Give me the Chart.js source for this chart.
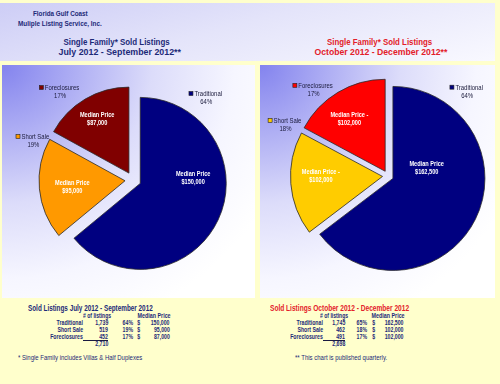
<!DOCTYPE html>
<html><head><meta charset="utf-8">
<script src="https://cdn.jsdelivr.net/npm/chart.js@4.4.0/dist/chart.umd.min.js"></script>
<style>
html,body{margin:0;padding:0;width:500px;height:384px;overflow:hidden;background:#FFFFCC;font-family:"Liberation Sans",Arial,sans-serif;}
#wrap{position:relative;width:500px;height:384px;}
.hdr{position:absolute;left:0;top:3px;width:495px;height:58px;background:linear-gradient(165deg,#cdcdf6 0%,#e4e4fa 45%,#f9f9ff 100%);}
.panel{position:absolute;background:radial-gradient(ellipse at 0 0,#8383ee 0%,#a9a9f3 18%,#dcdcfa 42%,#f6f6ff 65%,#ffffff 85%);}
.t{position:absolute;white-space:nowrap;line-height:1;}
.line{position:absolute;height:1px;background:#1a1a40;}
canvas{position:absolute;}
</style></head>
<body><div id="wrap">
<div class="hdr"></div>
<div class="panel" style="left:2px;top:65px;width:253px;height:233px;"></div>
<div class="panel" style="left:260px;top:65px;width:235px;height:233px;"></div>
<div id="c1w" style="position:absolute;left:13px;top:80px;width:240px;height:200px;"><canvas id="c1"></canvas></div>
<div id="c2w" style="position:absolute;left:262px;top:76px;width:236px;height:200px;"><canvas id="c2"></canvas></div>
</div>
<script>
// ---- data ----
const categories = ['Traditional', 'Short Sale', 'Foreclosures'];
const q3PieShare = [64, 19, 17];
const q4PieShare = [64, 18, 17];
const q3Counts = [1739, 519, 452];
const q4Counts = [1745, 462, 491];
const q3TablePct = [64, 19, 17];
const q4TablePct = [65, 18, 17];
const q3Median = [150000, 95000, 87000];
const q4Median = [162500, 102000, 102000];
const q3LabelTitles = ['Median Price', 'Median Price', 'Median Price'];
const q4LabelTitles = ['Median Price', 'Median Price -', 'Median Price -'];
const q3Colors = ['#000080', '#FF9900', '#800000'];
const q4Colors = ['#000080', '#FFCC00', '#FF0000'];

const NAVY = '#1d2a78', RED = '#e3202a', FONT = '"Liberation Sans", Arial, sans-serif';
const fmt = v => v.toLocaleString('en-US');

// ---- html text helper ----
const wrap = document.getElementById('wrap');
function place(text, x, cy, size, weight, color, width, align) {
  const s = document.createElement('span');
  s.className = 't';
  s.textContent = text;
  s.style.fontSize = size + 'px';
  s.style.fontWeight = weight;
  s.style.color = color;
  wrap.appendChild(s);
  const w = s.offsetWidth;
  const sx = width ? width / w : 0.8;
  const left = align === 'left' ? x : align === 'right' ? x - w : x - w / 2;
  s.style.left = left + 'px';
  s.style.top = (cy - s.offsetHeight / 2) + 'px';
  s.style.transformOrigin = align === 'left' ? 'left center' : align === 'right' ? 'right center' : 'center center';
  s.style.transform = 'scaleX(' + sx + ')';
}

// header
place('Florida Gulf Coast', 60.5, 13, 7, 'bold', NAVY, 55, 'center');
place('Muliple Listing Service, Inc.', 60, 23, 7, 'bold', NAVY, 84, 'center');
place('Single Family* Sold Listings', 116, 42, 9.5, 'bold', NAVY, 106, 'center');
place('July 2012 - September 2012**', 119.5, 52, 9.5, 'bold', NAVY, 123, 'center');
place('Single Family* Sold Listings', 379.5, 42, 9.5, 'bold', RED, 105, 'center');
place('October 2012 - December 2012**', 380.5, 52, 9.5, 'bold', RED, 133, 'center');

// tables
function table(cfg) {
  place(cfg.title, cfg.titleX, 308, 9, 'bold', cfg.titleColor, cfg.titleW, 'left');
  place('# of listings', cfg.colCount - 11, 316, 6.5, 'bold', NAVY, 28, 'center');
  place('Median Price', cfg.colPrice - 16.5, 316, 6.5, 'bold', NAVY, 33, 'center');
  const ys = [323, 330, 337];
  categories.forEach((c, i) => {
    place(c, cfg.colLabel, ys[i], 6.5, 'bold', NAVY, null, 'right');
    place(fmt(cfg.counts[i]), cfg.colCount, ys[i], 6.5, 'bold', NAVY, null, 'right');
    place(cfg.pct[i] + '%', cfg.colPct, ys[i], 6.5, 'bold', NAVY, null, 'right');
    place('$', cfg.colDollar, ys[i], 6.5, 'bold', NAVY, null, 'center');
    place(fmt(cfg.median[i]), cfg.colPrice, ys[i], 6.5, 'bold', NAVY, null, 'right');
  });
  const ln = document.createElement('div');
  ln.className = 'line';
  ln.style.left = cfg.colLabel + 'px';
  ln.style.top = '340px';
  ln.style.width = (cfg.colCount - cfg.colLabel) + 'px';
  wrap.appendChild(ln);
  const total = cfg.counts.reduce((a, b) => a + b, 0);
  place(fmt(total), cfg.colCount, 344, 6.5, 'bold', NAVY, null, 'right');
  place(cfg.note, cfg.noteX, 358, 7.5, 'normal', NAVY, cfg.noteW, 'left');
}
table({title: 'Sold Listings July 2012 - September 2012', titleX: 28, titleW: 125, titleColor: NAVY,
  counts: q3Counts, pct: q3TablePct, median: q3Median,
  colLabel: 83, colCount: 108, colPct: 133, colDollar: 139, colPrice: 170,
  note: '* Single Family includes Villas & Half Duplexes', noteX: 18, noteW: 124});
table({title: 'Sold Listings October 2012 - December 2012', titleX: 270, titleW: 139, titleColor: RED,
  counts: q4Counts, pct: q4TablePct, median: q4Median,
  colLabel: 323, colCount: 345, colPct: 367, colDollar: 373.5, colPrice: 404,
  note: '** This chart is published quarterly.', noteX: 295, noteW: 92});

// ---- chart plugins ----
function sText(ctx, t, x, y, font, color, sx, align) {
  ctx.save();
  ctx.translate(x, y);
  ctx.scale(sx, 1);
  ctx.font = font;
  ctx.fillStyle = color;
  ctx.textAlign = align;
  ctx.textBaseline = 'middle';
  ctx.fillText(t, 0, 0);
  ctx.restore();
}
const explodePlugin = {
  id: 'explode',
  beforeDatasetDraw(chart, args, opts) {
    const ctx = chart.ctx;
    args.meta.data.forEach(arc => {
      const mid = (arc.startAngle + arc.endAngle) / 2;
      ctx.save();
      ctx.translate(Math.cos(mid) * opts.distance, Math.sin(mid) * opts.distance);
      arc.draw(ctx);
      ctx.restore();
    });
    return false;
  }
};
const labelPlugin = {
  id: 'pieLabels',
  afterDatasetsDraw(chart, args, opts) {
    const ctx = chart.ctx;
    const meta = chart.getDatasetMeta(0);
    const ds = chart.data.datasets[0];
    meta.data.forEach((arc, i) => {
      const r = arc.outerRadius, cx = arc.x, cy = arc.y;
      // inside label
      const [deg, f] = opts.inside[i];
      const a = deg * Math.PI / 180;
      const ix = cx + Math.sin(a) * f * r, iy = cy - Math.cos(a) * f * r;
      const bf = 'bold 7px ' + FONT;
      sText(ctx, opts.titles[i], ix, iy - 4, bf, '#ffffff', 0.8, 'center');
      sText(ctx, '$' + fmt(opts.prices[i]), ix, iy + 4, bf, '#ffffff', 0.8, 'center');
      // outside legend-like label
      const [ox, oy] = opts.outside[i];
      const lx = cx + ox * r, ly = cy + oy * r;
      const nf = '7px ' + FONT;
      ctx.font = nf;
      const w = ctx.measureText(chart.data.labels[i]).width * 0.85;
      const start = lx - (w + 5) / 2;
      ctx.fillStyle = ds.backgroundColor[i];
      ctx.fillRect(start, ly - 2.5, 4, 4);
      ctx.strokeStyle = '#222';
      ctx.lineWidth = 0.6;
      ctx.strokeRect(start, ly - 2.5, 4, 4);
      sText(ctx, chart.data.labels[i], start + 5.5, ly, nf, '#1a1a3a', 0.85, 'left');
      sText(ctx, ds.data[i] + '%', lx + 1, ly + 8, nf, '#1a1a3a', 0.85, 'center');
    });
  }
};

function makePie(id, shares, colors, radius, explode, padding, labelOpts) {
  return new Chart(document.getElementById(id), {
    type: 'pie',
    data: {labels: categories, datasets: [{data: shares, backgroundColor: colors, borderColor: '#2a2a2a', borderWidth: 0.8}]},
    options: {
      responsive: true, maintainAspectRatio: false, animation: false,
      radius: radius,
      layout: {padding: padding},
      plugins: {legend: {display: false}, tooltip: {enabled: false}, title: {display: false},
        explode: {distance: explode}, pieLabels: labelOpts}
    },
    plugins: [explodePlugin, labelPlugin]
  });
}

makePie('c1', q3PieShare, q3Colors, 86, 8, {left: 0, right: 0, top: 0, bottom: 0}, {
  titles: q3LabelTitles, prices: q3Median,
  inside: [[88, 0.70], [263.5, 0.71], [329.5, 0.82]],
  outside: [[0.84, -1.0], [-1.17, -0.50], [-0.86, -1.07]]
});
makePie('c2', q4PieShare, q4Colors, 92, 5.5, {left: 16, right: 0, top: 0, bottom: 0}, {
  titles: q4LabelTitles, prices: q4Median,
  inside: [[78, 0.43], [269.6, 0.73], [326, 0.75]],
  outside: [[0.85, -0.96], [-1.125, -0.60], [-0.82, -0.98]]
});
</script>
</body></html>
